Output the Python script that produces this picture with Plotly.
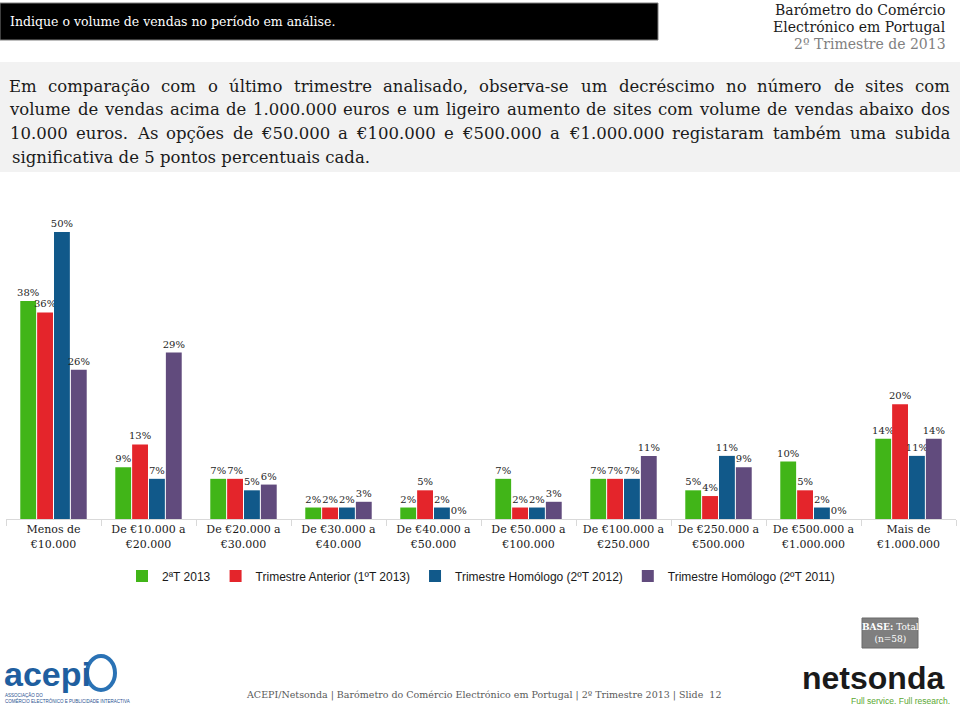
import plotly.graph_objects as go

categories = [
    "Menos de<br>€10.000",
    "De €10.000 a<br>€20.000",
    "De €20.000 a<br>€30.000",
    "De €30.000 a<br>€40.000",
    "De €40.000 a<br>€50.000",
    "De €50.000 a<br>€100.000",
    "De €100.000 a<br>€250.000",
    "De €250.000 a<br>€500.000",
    "De €500.000 a<br>€1.000.000",
    "Mais de<br>€1.000.000",
]
series_names = [
    "2ªT 2013",
    "Trimestre Anterior (1ºT 2013)",
    "Trimestre Homólogo (2ºT 2012)",
    "Trimestre Homólogo (2ºT 2011)",
]
q2_2013 = [38, 9, 7, 2, 2, 7, 7, 5, 10, 14]
q1_2013 = [36, 13, 7, 2, 5, 2, 7, 4, 5, 20]
q2_2012 = [50, 7, 5, 2, 2, 2, 7, 11, 2, 11]
q2_2011 = [26, 29, 6, 3, 0, 3, 11, 9, 0, 14]
colors = ["#41b518", "#e4252b", "#11598a", "#614b7d"]

W, H = 960, 707
L, R, T, B = 6, 4, 212, 188
PW = W - L - R
PH = H - T - B


def px(x):
    return (x - L) / PW


def py(y):
    return (H - B - y) / PH


fig = go.Figure()
for name, vals, col in zip(series_names, [q2_2013, q1_2013, q2_2012, q2_2011], colors):
    fig.add_trace(go.Bar(
        x=categories, y=vals, name=name,
        marker=dict(color=col, line=dict(width=0)),
        text=[f"{v}%" for v in vals], textposition="outside",
        textfont=dict(family="DejaVu Serif", size=10, color="#262626"),
        cliponaxis=False, constraintext="none",
    ))

shapes = [
    dict(type="rect", xref="paper", yref="paper", x0=px(0), x1=px(658), y0=py(3), y1=py(40),
         fillcolor="#000000", line=dict(color="#7f7f7f", width=1), layer="below"),
    dict(type="rect", xref="paper", yref="paper", x0=px(0), x1=px(960), y0=py(62), y1=py(172),
         fillcolor="#f2f2f2", line=dict(width=0), layer="below"),
    dict(type="rect", xref="paper", yref="paper", x0=px(862), x1=px(918), y0=py(618), y1=py(648),
         fillcolor="#7f7f7f", line=dict(color="#6b6b6b", width=1), layer="below"),
    dict(type="circle", xref="paper", yref="paper", x0=px(87), x1=px(115), y0=py(656), y1=py(690),
         fillcolor="rgba(0,0,0,0)", line=dict(color="#2a72b5", width=4)),
]

annotations = [
    dict(text="Indique o volume de vendas no período em análise.", x=px(8), y=py(22),
         xanchor="left", yanchor="middle", font=dict(size=12.5, color="white")),
    dict(text="Barómetro do Comércio", x=px(948), y=py(10), xanchor="right", yanchor="middle",
         font=dict(size=14, color="#1a1a1a")),
    dict(text="Electrónico em Portugal", x=px(948), y=py(27), xanchor="right", yanchor="middle",
         font=dict(size=14, color="#1a1a1a")),
    dict(text="2º Trimestre de 2013", x=px(948), y=py(44), xanchor="right", yanchor="middle",
         font=dict(size=14, color="#808080")),
    dict(text="<b>BASE:</b> Total<br>(n=58)", x=px(890), y=py(633), xanchor="center", yanchor="middle",
         font=dict(size=9, color="white")),
    dict(text="ACEPI/Netsonda | Barómetro do Comércio Electrónico em Portugal | 2º Trimestre 2013 | Slide  12",
         x=px(483), y=py(695), xanchor="center", yanchor="middle", font=dict(size=9.5, color="#595959")),
    dict(text="<b>acepi</b>", x=px(2), y=py(674), xanchor="left", yanchor="middle",
         font=dict(family="Liberation Sans", size=34, color="#1f5fa0")),
    dict(text="ASSOCIAÇÃO DO<br>COMÉRCIO ELECTRÓNICO E PUBLICIDADE INTERACTIVA", x=px(3), y=py(698),
         xanchor="left", yanchor="middle", align="left",
         font=dict(family="Liberation Sans", size=4.5, color="#1f4f8f")),
    dict(text="<b>netsonda</b>", x=px(873), y=py(678), xanchor="center", yanchor="middle",
         font=dict(family="Liberation Sans", size=32, color="#1a1a1a")),
    dict(text="Full service. Full research.", x=px(952), y=py(701), xanchor="right", yanchor="middle",
         font=dict(family="Liberation Sans", size=8.5, color="#5aa832")),
]

# Paragraph text, justified like the reference (last line left aligned)
para = [
    "Em comparação com o último trimestre analisado, observa-se um decréscimo no número de sites com",
    "volume de vendas acima de 1.000.000 euros e um ligeiro aumento de sites com volume de vendas abaixo dos",
    "10.000 euros. As opções de €50.000 a €100.000 e €500.000 a €1.000.000 registaram também uma subida",
    "significativa de 5 pontos percentuais cada.",
]
PFS = 16.5
cw = {' ': 651, 'a': 1221, 'b': 1311, 'c': 1145, 'd': 1311, 'e': 1212, 'f': 739, 'g': 1311,
      'h': 1317, 'i': 655, 'j': 641, 'k': 1252, 'l': 655, 'm': 1966, 'n': 1317, 'o': 1233,
      'p': 1311, 'q': 1311, 'r': 985, 's': 1051, 't': 819, 'u': 1317, 'v': 1178, 'w': 1753,
      'x': 1198, 'y': 1178, 'z': 1075, '.': 651, ',': 651, '-': 739, '€': 1303,
      'E': 1360, 'A': 1483, 'ç': 1145, 'ã': 1221, 'ú': 1317, 'é': 1212, 'ó': 1233,
      'õ': 1233, 'í': 655}


def wlen(s):
    return sum(cw.get(ch, 1303) for ch in s) / 2048 * PFS


X0, X1 = 10, 950
for i, line in enumerate(para):
    yv = py(86 + 23.7 * i)
    if i == len(para) - 1:
        annotations.append(dict(text=line, x=px(X0), y=yv, xanchor="left", yanchor="middle",
                                font=dict(size=PFS, color="#1a1a1a")))
        continue
    words = line.split(" ")
    widths = [wlen(w) for w in words]
    gap = (X1 - X0 - sum(widths)) / (len(words) - 1)
    xpos = X0
    for w, wd in zip(words, widths):
        annotations.append(dict(text=w, x=px(xpos + wd / 2), y=yv, xanchor="center", yanchor="middle",
                                font=dict(size=PFS, color="#1a1a1a")))
        xpos += wd + gap

for a in annotations:
    a.update(xref="paper", yref="paper", showarrow=False)

fig.update_layout(
    width=W, height=H,
    margin=dict(l=L, r=R, t=T, b=B, pad=0),
    paper_bgcolor="white", plot_bgcolor="white",
    font=dict(family="DejaVu Serif", color="#1a1a1a"),
    barmode="group", bargap=0.29, bargroupgap=0.06,
    showlegend=True,
    legend=dict(orientation="h", x=0.5, xanchor="center", yref="container", y=1 - 576 / H,
                yanchor="middle", font=dict(family="Liberation Sans", size=12, color="#1a1a1a"),
                itemwidth=30, traceorder="normal"),
    xaxis=dict(showline=True, linecolor="#d9d9d9", linewidth=1, ticks="outside", tickson="boundaries",
               ticklen=6, tickcolor="#d9d9d9", tickfont=dict(family="DejaVu Serif", size=11, color="#1a1a1a"),
               showgrid=False),
    yaxis=dict(visible=False, range=[0, 53.5], showgrid=False, zeroline=False),
    shapes=shapes, annotations=annotations,
)

fig.write_html("out.html", config={"displayModeBar": False},
               post_script="document.body.style.margin='0';document.body.style.overflow='hidden';")
